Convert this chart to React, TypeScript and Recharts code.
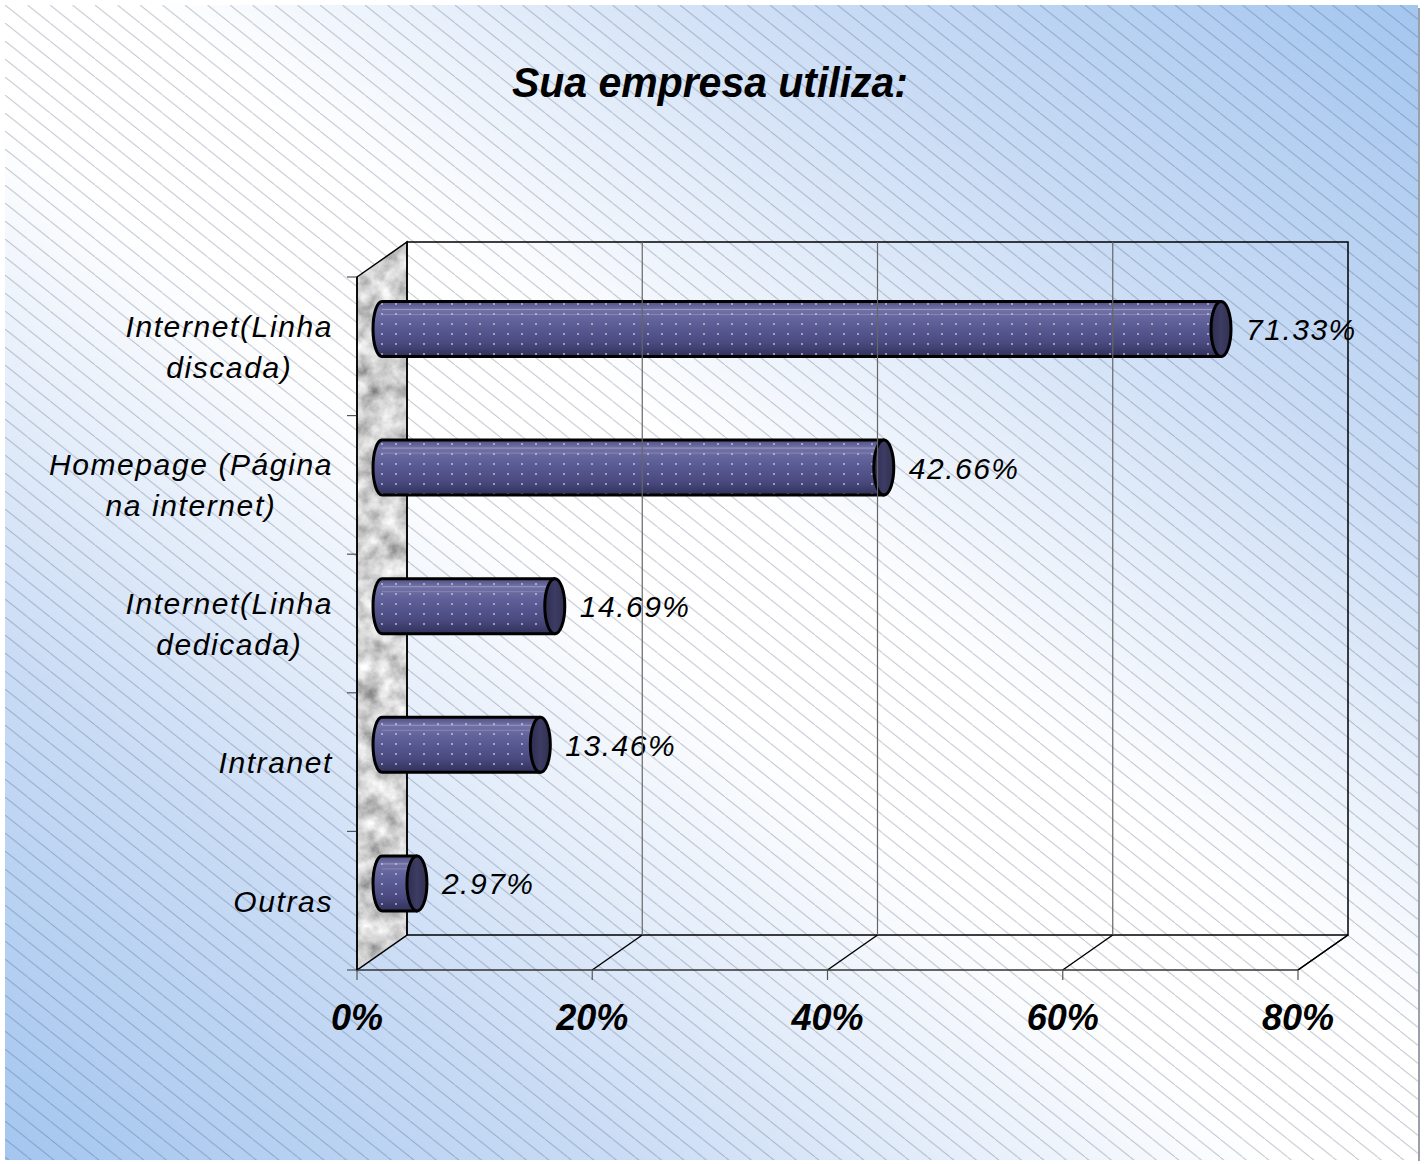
import { BarChart, Bar, XAxis, YAxis, ReferenceArea, ReferenceLine } from "recharts";

const title = "Sua empresa utiliza:";
const categories = [
  "Internet(Linha discada)",
  "Homepage (Página na internet)",
  "Internet(Linha dedicada)",
  "Intranet",
  "Outras",
];
const shares = [71.33, 42.66, 14.69, 13.46, 2.97];
const xTicks = [0, 20, 40, 60, 80];

const data = categories.map((name, i) => ({ name, value: shares[i] }));

const W = 1426;
const H = 1164;
const DX = 50; // depth of the 3d box
const DY = -35;
const FONT = '"Liberation Sans", Arial, sans-serif';

function wrap(s: string, max = 16): string[] {
  const out: string[] = [];
  let cur = "";
  for (const w of s.split(" ")) {
    const next = cur ? cur + " " + w : w;
    if (next.length > max && cur) {
      out.push(cur);
      cur = w;
    } else cur = next;
  }
  if (cur) out.push(cur);
  return out;
}

let ctx: CanvasRenderingContext2D | null = null;
function measure(s: string, font: string): number {
  if (!ctx) ctx = document.createElement("canvas").getContext("2d");
  if (!ctx) return s.length * 15;
  ctx.font = font;
  return ctx.measureText(s).width;
}

function CategoryTick({ x, y, payload }: any) {
  const lines = wrap(String(payload.value));
  const ls = 1.6;
  const widths = lines.map((l) => measure(l, `italic 30px ${FONT}`) + ls * l.length);
  const cx = x - Math.max(...widths) / 2;
  const lh = 41;
  const first = y - ((lines.length - 1) * lh) / 2 + 11;
  return (
    <text x={cx} textAnchor="middle" fontFamily={FONT} fontStyle="italic" fontSize={30} letterSpacing={ls} fill="#000">
      {lines.map((l, i) => (
        <tspan key={i} x={cx} y={first + i * lh}>
          {l}
        </tspan>
      ))}
    </text>
  );
}

function ValueTick({ x, y, payload }: any) {
  return (
    <text x={x} y={y + 50} textAnchor="middle" fontFamily={FONT} fontStyle="italic" fontWeight="bold" fontSize={36} fill="#000">
      {payload.value}%
    </text>
  );
}

// side wall, back wall and floor edges, sized from the plot rect
function Frame({ x, y, width, height }: any) {
  const L = x, R = x + width, T = y, B = y + height;
  const n = categories.length;
  const wall = `${L},${T} ${L + DX},${T + DY} ${L + DX},${B + DY} ${L},${B}`;
  return (
    <g>
      <polygon points={wall} fill="#a0a0a0" filter="url(#granite)" />
      <polygon points={wall} fill="none" stroke="#000" strokeWidth={1.5} />
      <rect x={L + DX} y={T + DY} width={width} height={height} fill="none" stroke="#000" strokeWidth={1.5} />
      <line x1={R} y1={B} x2={R + DX} y2={B + DY} stroke="#000" strokeWidth={1.5} />
      {Array.from({ length: n + 1 }, (_, i) => (
        <line key={i} x1={L - 10} x2={L} y1={T + (i * height) / n} y2={T + (i * height) / n} stroke="#555" strokeWidth={1.2} />
      ))}
    </g>
  );
}

function GridPiece(props: any) {
  const { x1, y1, y2 } = props;
  const top = Math.min(y1, y2);
  const bot = Math.max(y1, y2);
  const v = props.value;
  const inner = v !== xTicks[0] && v !== xTicks[xTicks.length - 1];
  return (
    <g>
      {inner && <line x1={x1 + DX} x2={x1 + DX} y1={top + DY} y2={bot + DY} stroke="#666" strokeWidth={1.2} />}
      {v !== xTicks[0] && <line x1={x1} y1={bot} x2={x1 + DX} y2={bot + DY} stroke="#000" strokeWidth={1.5} />}
    </g>
  );
}

function Cylinder(props: any) {
  const { x, y, width, height, value } = props;
  const x0 = x + DX / 2;
  const x1 = x + width + DX / 2;
  const top = y + DY / 2;
  const bot = top + height;
  const rx = 9;
  const ry = height / 2;
  const body = `M${x0},${top} L${x1},${top} L${x1},${bot} L${x0},${bot} A${rx},${ry} 0 0 1 ${x0},${top} Z`;
  return (
    <g>
      <path d={body} fill="url(#barBody)" />
      <path d={body} fill="url(#barDots)" />
      <line x1={x0} x2={x1} y1={top + 8} y2={top + 8} stroke="#b8b8e0" strokeOpacity={0.55} />
      <line x1={x0} x2={x1} y1={top + 13} y2={top + 13} stroke="#b8b8e0" strokeOpacity={0.35} />
      <path d={body} fill="none" stroke="#000" strokeWidth={3} strokeLinejoin="round" />
      <ellipse cx={x1} cy={top + ry} rx={rx + 1} ry={ry} fill="url(#capFill)" stroke="#000" strokeWidth={3} />
      <text
        x={x + width + DX}
        y={top + ry + 11}
        fontFamily={FONT}
        fontStyle="italic"
        fontSize={30}
        letterSpacing={1.5}
        fill="#000"
      >
        {Number(value).toFixed(2)}%
      </text>
    </g>
  );
}

export default function App() {
  return (
    <div style={{ position: "relative", width: W, height: H }}>
      <style>{`body{margin:0}`}</style>
      <svg width={W} height={H} style={{ position: "absolute", left: 0, top: 0 }}>
        <defs>
          <linearGradient id="bgGrad" x1="1" y1="0" x2="0" y2="1">
            <stop offset="0" stopColor="#a4c6ef" />
            <stop offset="0.22" stopColor="#cadcf5" />
            <stop offset="0.45" stopColor="#ffffff" />
            <stop offset="0.55" stopColor="#ffffff" />
            <stop offset="0.78" stopColor="#cadcf5" />
            <stop offset="1" stopColor="#a4c6ef" />
          </linearGradient>
          <pattern id="hatch" patternUnits="userSpaceOnUse" width={22.5} height={18} x={5} y={5}>
            <path d="M-22.5,-18 L45,36" stroke="#3a4a66" strokeOpacity={0.3} strokeWidth={1} />
          </pattern>
          <linearGradient id="barBody" x1="0" y1="0" x2="0" y2="1">
            <stop offset="0" stopColor="#4e4e84" />
            <stop offset="0.14" stopColor="#7272a6" />
            <stop offset="0.4" stopColor="#5e5e98" />
            <stop offset="0.75" stopColor="#4a4a80" />
            <stop offset="1" stopColor="#31315a" />
          </linearGradient>
          <linearGradient id="capFill" x1="0" y1="0" x2="1" y2="0">
            <stop offset="0" stopColor="#2e2e50" />
            <stop offset="0.5" stopColor="#3c3c64" />
            <stop offset="1" stopColor="#30304f" />
          </linearGradient>
          <pattern id="barDots" patternUnits="userSpaceOnUse" width={14} height={10}>
            <circle cx={4} cy={4} r={1} fill="#dcdcf4" fillOpacity={0.75} />
          </pattern>
          <filter id="granite" x="0" y="0" width="100%" height="100%">
            <feTurbulence type="fractalNoise" baseFrequency="0.05" numOctaves="5" seed="7" result="n" />
            <feColorMatrix
              in="n"
              type="matrix"
              values="1.1 0 0 0 0.1  1.1 0 0 0 0.1  1.1 0 0 0 0.1  0 0 0 0 1"
              result="g"
            />
            <feComposite in="g" in2="SourceGraphic" operator="in" />
          </filter>
        </defs>
        <rect x={5} y={5} width={1413} height={1155} fill="url(#bgGrad)" />
        <rect x={5} y={5} width={1413} height={1155} fill="url(#hatch)" />
        <line x1={1419} y1={8} x2={1419} y2={1161} stroke="#9aa0aa" strokeWidth={2} />
        <text
          x={710}
          y={97}
          textAnchor="middle"
          fontFamily={FONT}
          fontStyle="italic"
          fontWeight="bold"
          fontSize={43}
          textLength={396}
          lengthAdjust="spacingAndGlyphs"
          fill="#000"
        >
          {title}
        </text>
      </svg>
      <div style={{ position: "absolute", left: 0, top: 0 }}>
        <BarChart
          width={W}
          height={H}
          data={data}
          layout="vertical"
          margin={{ top: 277, right: 128, bottom: 134, left: 17 }}
          barSize={55}
        >
          <XAxis
            type="number"
            domain={[0, 80]}
            ticks={xTicks}
            height={60}
            tickSize={10}
            tickMargin={0}
            tick={<ValueTick />}
            tickLine={{ stroke: "#555", strokeWidth: 1.2 }}
            axisLine={{ stroke: "#333", strokeWidth: 1.5 }}
          />
          <YAxis
            type="category"
            dataKey="name"
            width={340}
            interval={0}
            tickSize={10}
            tickMargin={14}
            tickLine={false}
            tick={<CategoryTick />}
            axisLine={{ stroke: "#000", strokeWidth: 1.5 }}
          />
          <ReferenceArea x1={xTicks[0]} x2={xTicks[xTicks.length - 1]} shape={<Frame />} ifOverflow="visible" />
          {xTicks.map((t) => (
            <ReferenceLine key={t} x={t} ifOverflow="visible" shape={(p: any) => <GridPiece {...p} value={t} />} />
          ))}
          <Bar dataKey="value" isAnimationActive={false} shape={<Cylinder />} />
        </BarChart>
      </div>
    </div>
  );
}
